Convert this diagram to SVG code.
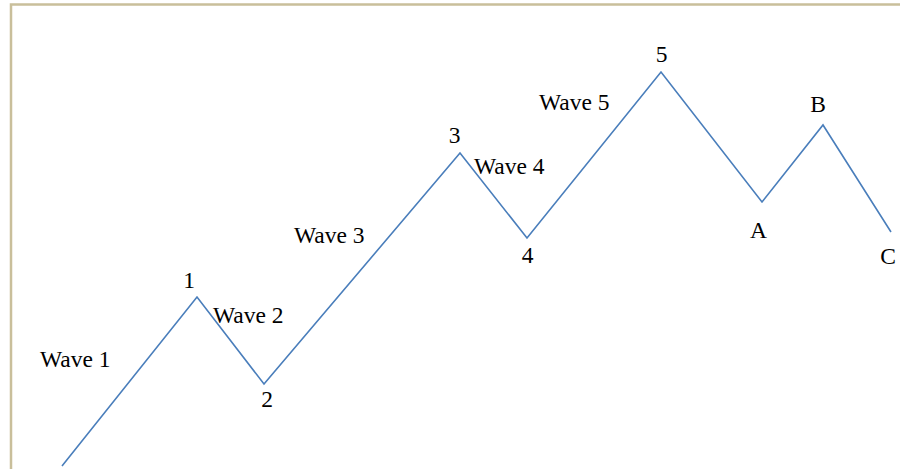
<svg xmlns="http://www.w3.org/2000/svg" width="900" height="469" viewBox="0 0 900 469">
<style>
.t{font-family:"Liberation Serif","Times New Roman",serif;font-size:23.5px;fill:#000}
.m{text-anchor:middle}
.w{fill:none;stroke:#4a7ebb;stroke-width:1.6;stroke-linejoin:miter}
.b{fill:none;stroke:#c9bf9b;stroke-width:2.5}
</style>
<rect width="900" height="469" fill="#fff"/>
<path class="b" d="M11 469 V4.5 H900"/>
<g id="connectors">
<polyline class="w" points="62,466 197,297 264,384 460,153 527,238 661,72 762,202 823,125 891,232"/>
</g>
<g id="wave1"><text class="t" x="40" y="367">Wave 1</text></g>
<g id="wave2"><text class="t" x="213" y="323">Wave 2</text></g>
<g id="wave3"><text class="t" x="294" y="243">Wave 3</text></g>
<g id="wave4"><text class="t" x="474" y="174">Wave 4</text></g>
<g id="wave5"><text class="t" x="539" y="110">Wave 5</text></g>
<g id="p1"><text class="t m" x="189" y="288">1</text></g>
<g id="p2"><text class="t m" x="267" y="407">2</text></g>
<g id="p3"><text class="t m" x="454.5" y="143">3</text></g>
<g id="p4"><text class="t m" x="527.5" y="263">4</text></g>
<g id="p5"><text class="t m" x="661.5" y="62">5</text></g>
<g id="pA"><text class="t m" x="758.5" y="238">A</text></g>
<g id="pB"><text class="t m" x="818" y="112">B</text></g>
<g id="pC"><text class="t m" x="888" y="264">C</text></g>
</svg>
